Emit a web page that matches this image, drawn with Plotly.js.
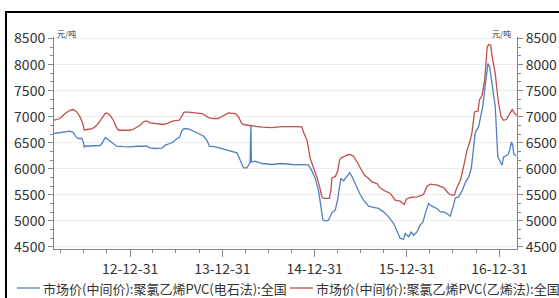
<!DOCTYPE html>
<html>
<head>
<meta charset="utf-8">
<script src="https://cdn.plot.ly/plotly-3.0.1.min.js"></script>
<style>html,body{margin:0;padding:0;background:#fff;}#chart{width:559px;height:298px;}</style>
</head>
<body>
<div id="chart"></div>
<script>
// ---- data ----
const seriesNames = ["市场价(中间价):聚氯乙烯PVC(电石法):全国", "市场价(中间价):聚氯乙烯PVC(乙烯法):全国"];
const seriesColors = ['#4F81BD', '#C0504D'];

const carbideDates = ["2012-03-05","2012-03-29","2012-04-18","2012-05-07","2012-05-20","2012-05-31","2012-06-09","2012-06-23","2012-06-29","2012-07-03","2012-07-06","2012-07-19","2012-08-08","2012-09-03","2012-09-10","2012-09-16","2012-09-24","2012-10-04","2012-10-20","2012-11-02","2012-11-08","2012-12-04","2012-12-31","2013-01-27","2013-03-07","2013-03-20","2013-04-09","2013-05-06","2013-05-19","2013-06-07","2013-06-20","2013-07-04","2013-07-14","2013-07-24","2013-08-02","2013-08-19","2013-09-08","2013-09-28","2013-10-18","2013-10-31","2013-11-10","2013-12-03","2013-12-29","2014-01-24","2014-02-27","2014-03-12","2014-03-25","2014-04-07","2014-04-13","2014-04-20","2014-04-23","2014-04-25","2014-05-10","2014-06-06","2014-07-15","2014-08-24","2014-10-02","2014-11-04","2014-12-07","2014-12-21","2015-01-03","2015-01-16","2015-01-25","2015-02-02","2015-02-11","2015-02-24","2015-03-10","2015-03-23","2015-04-01","2015-04-09","2015-04-14","2015-04-25","2015-05-08","2015-05-19","2015-05-28","2015-06-10","2015-06-27","2015-07-13","2015-08-02","2015-08-21","2015-09-10","2015-09-30","2015-10-20","2015-11-09","2015-11-22","2015-12-05","2015-12-18","2015-12-25","2016-01-07","2016-01-17","2016-01-27","2016-02-09","2016-02-22","2016-03-04","2016-03-17","2016-03-26","2016-04-08","2016-04-28","2016-05-12","2016-05-25","2016-06-07","2016-06-20","2016-07-01","2016-07-10","2016-07-23","2016-08-06","2016-08-19","2016-09-01","2016-09-11","2016-09-20","2016-09-27","2016-10-10","2016-10-17","2016-10-26","2016-11-03","2016-11-10","2016-11-16","2016-11-23","2016-12-02","2016-12-09","2016-12-15","2016-12-19","2016-12-25","2017-01-01","2017-01-11","2017-01-17","2017-01-24","2017-02-04","2017-02-10","2017-02-17","2017-02-22","2017-02-26","2017-03-07"];
const carbideValues = [6677,6689,6708,6721,6700,6612,6581,6581,6516,6408,6433,6433,6433,6447,6485,6548,6600,6562,6497,6453,6433,6425,6420,6433,6433,6401,6389,6395,6453,6485,6516,6581,6600,6727,6773,6765,6727,6677,6625,6548,6433,6420,6389,6356,6305,6165,6017,6017,6069,6113,6836,6132,6145,6101,6082,6101,6082,6075,6075,5955,5810,5570,5250,5020,4997,5013,5160,5210,5397,5700,5813,5770,5844,5925,5850,5700,5530,5397,5282,5257,5238,5173,5077,4949,4789,4662,4649,4758,4693,4789,4725,4789,4917,4981,5205,5333,5282,5238,5173,5173,5142,5090,5268,5440,5460,5580,5740,5844,6005,6356,6700,6804,6996,7188,7508,7828,8020,7955,7636,7380,7188,6804,6228,6165,6069,6228,6241,6280,6356,6516,6453,6293,6241];

const ethyleneDates = ["2012-03-05","2012-03-29","2012-04-18","2012-05-07","2012-05-20","2012-06-03","2012-06-16","2012-06-27","2012-07-03","2012-07-13","2012-08-01","2012-08-14","2012-08-27","2012-09-10","2012-09-23","2012-09-30","2012-10-13","2012-10-26","2012-11-06","2012-11-15","2012-12-04","2012-12-31","2013-01-13","2013-01-27","2013-02-09","2013-02-22","2013-03-07","2013-03-20","2013-04-09","2013-04-29","2013-05-12","2013-05-25","2013-06-07","2013-06-20","2013-07-14","2013-07-24","2013-08-02","2013-08-19","2013-09-08","2013-10-11","2013-10-24","2013-11-06","2013-11-26","2013-12-16","2013-12-22","2014-01-11","2014-01-24","2014-02-20","2014-03-05","2014-03-18","2014-03-25","2014-04-13","2014-05-10","2014-06-06","2014-07-15","2014-08-24","2014-10-02","2014-11-11","2014-11-17","2014-12-01","2014-12-14","2014-12-27","2015-01-09","2015-01-20","2015-01-29","2015-02-05","2015-02-28","2015-03-06","2015-03-10","2015-03-23","2015-04-02","2015-04-09","2015-04-16","2015-04-25","2015-05-08","2015-05-21","2015-06-03","2015-06-16","2015-06-27","2015-07-06","2015-07-16","2015-08-02","2015-08-15","2015-09-04","2015-09-17","2015-10-07","2015-10-27","2015-11-15","2015-12-05","2015-12-21","2015-12-29","2016-01-14","2016-02-09","2016-03-06","2016-03-20","2016-04-02","2016-04-29","2016-05-25","2016-06-13","2016-06-27","2016-07-06","2016-07-17","2016-07-30","2016-08-12","2016-08-25","2016-09-07","2016-09-14","2016-09-24","2016-10-08","2016-10-13","2016-10-24","2016-11-03","2016-11-09","2016-11-13","2016-11-19","2016-11-27","2016-12-02","2016-12-09","2016-12-15","2016-12-22","2016-12-28","2017-01-08","2017-01-17","2017-01-27","2017-02-06","2017-02-20","2017-03-02","2017-03-11"];
const ethyleneValues = [6932,6965,7060,7124,7137,7092,6996,6869,6740,6754,6765,6804,6869,6965,7060,7072,7028,6932,6804,6740,6735,6740,6759,6804,6836,6900,6919,6881,6869,6855,6850,6869,6900,6919,6932,7028,7086,7086,7072,7060,7028,6984,6965,6965,6984,7047,7072,7060,6996,6869,6850,6836,6817,6798,6792,6811,6811,6804,6708,6550,6197,6036,5844,5652,5460,5430,5430,5610,5830,5850,5960,6165,6216,6228,6261,6274,6241,6140,6050,5990,5880,5813,5750,5717,5630,5570,5525,5397,5378,5314,5416,5449,5460,5506,5666,5704,5685,5640,5525,5493,5493,5652,5781,6050,6350,6548,6700,7092,7111,7316,7412,7700,8020,8339,8385,8371,8179,8020,7828,7508,7253,6984,6932,6946,7028,7137,7060,7028];

const xTickVals = ["2012-12-31","2013-12-31","2014-12-31","2015-12-31","2016-12-31"];
const xTickText = ["12-12-31","13-12-31","14-12-31","15-12-31","16-12-31"];
const xMinorVals = ["2012-03-31","2012-06-30","2012-09-30","2013-03-31","2013-06-30","2013-09-30","2014-03-31","2014-06-30","2014-09-30","2015-03-31","2015-06-30","2015-09-30","2016-03-31","2016-06-30","2016-09-30"];
const yTickVals = [4500,5000,5500,6000,6500,7000,7500,8000,8500];
const unitLabel = "元/吨";

// ---- layout helpers (pixel -> paper) ----
const W = 559, H = 298;
const M = {l:54, r:42, t:37, b:49, autoexpand: false};
const pw = W - M.l - M.r, ph = H - M.t - M.b;
const px = v => (v - M.l) / pw;
const py = v => (H - M.b - v) / ph;

const FONT = '"Noto Sans CJK SC", "Noto Sans", sans-serif';
const axisGray = '#868686';

const yCommon = {
  range: [4460, 8530],
  tickmode: 'array', tickvals: yTickVals,
  ticks: 'outside', ticklen: 5, tickcolor: axisGray, tickwidth: 1,
  showline: true, linecolor: axisGray, linewidth: 1,
  tickfont: {family: FONT, size: 14, color: '#333'},
  minor: {tick0: 4500, dtick: 500/3, ticks: 'outside', ticklen: 3, tickcolor: axisGray, showgrid: false},
  zeroline: false, fixedrange: true
};

const data = [
  {x: carbideDates, y: carbideValues, type: 'scatter', mode: 'lines', name: seriesNames[0],
   line: {color: seriesColors[0], width: 1.3}, yaxis: 'y'},
  {x: ethyleneDates, y: ethyleneValues, type: 'scatter', mode: 'lines', name: seriesNames[1],
   line: {color: seriesColors[1], width: 1.3}, yaxis: 'y2'}
];

// legend drawn as shapes + text (positions in pixels)
const legendItems = [{lineX0: 17, lineX1: 40, textX: 41}, {lineX0: 290, lineX1: 313, textX: 314}];
const legendY = 288;

const shapes = [
  {type: 'line', xref: 'paper', yref: 'paper', x0: px(6), x1: px(6), y0: py(298), y1: py(12), line: {color: '#000', width: 2}},
  {type: 'line', xref: 'paper', yref: 'paper', x0: px(5), x1: px(559), y0: py(12), y1: py(12), line: {color: '#000', width: 2}}
];
const annotations = [
  {xref: 'paper', yref: 'paper', x: px(55), y: py(33), xanchor: 'left', yanchor: 'middle', text: unitLabel, showarrow: false,
   font: {family: FONT, size: 8, color: '#333'}},
  {xref: 'paper', yref: 'paper', x: px(513), y: py(33), xanchor: 'right', yanchor: 'middle', text: unitLabel, showarrow: false,
   font: {family: FONT, size: 8, color: '#333'}}
];
legendItems.forEach((it, i) => {
  shapes.push({type: 'line', xref: 'paper', yref: 'paper', x0: px(it.lineX0), x1: px(it.lineX1), y0: py(legendY), y1: py(legendY),
               line: {color: seriesColors[i], width: 1.3}});
  annotations.push({xref: 'paper', yref: 'paper', x: px(it.textX), y: py(legendY), xanchor: 'left', yanchor: 'middle',
                    text: seriesNames[i], showarrow: false, font: {family: FONT, size: 13, color: '#333'}});
});

const layout = {
  width: W, height: H,
  margin: M,
  paper_bgcolor: '#fff', plot_bgcolor: '#fff',
  font: {family: FONT, size: 13, color: '#333'},
  showlegend: false,
  xaxis: {
    type: 'date', range: ['2012-03-05', '2017-03-11'],
    tickmode: 'array', tickvals: xTickVals, ticktext: xTickText,
    ticks: 'outside', ticklen: 7, tickcolor: axisGray,
    showline: true, linecolor: axisGray, linewidth: 1, showgrid: false,
    tickfont: {family: FONT, size: 14, color: '#333'},
    minor: {tickmode: 'array', tickvals: xMinorVals, ticks: 'outside', ticklen: 3, tickcolor: axisGray, showgrid: false},
    zeroline: false, fixedrange: true
  },
  yaxis: Object.assign({}, yCommon, {side: 'left', showgrid: true, gridcolor: '#EBEBEB', gridwidth: 1}),
  yaxis2: Object.assign({}, yCommon, {side: 'right', overlaying: 'y', showgrid: false}),
  shapes: shapes,
  annotations: annotations
};

Plotly.newPlot('chart', data, layout, {displayModeBar: false, staticPlot: true});
</script>
</body>
</html>
